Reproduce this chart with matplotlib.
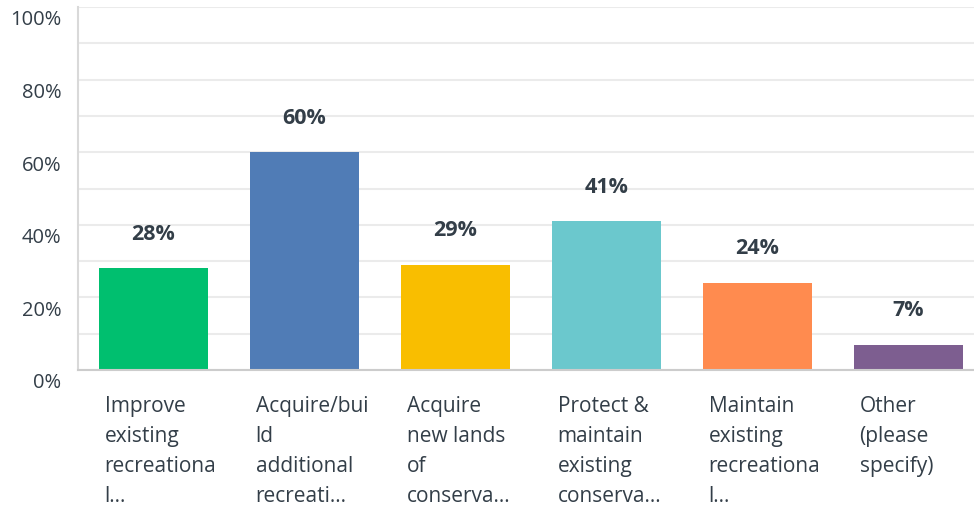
"""Survey response bar chart."""
import matplotlib.pyplot as plt
from matplotlib.transforms import ScaledTranslation

categories = [
    "Improve\nexisting\nrecreationa\nl...",
    "Acquire/bui\nld\nadditional\nrecreati...",
    "Acquire\nnew lands\nof\nconserva...",
    "Protect &\nmaintain\nexisting\nconserva...",
    "Maintain\nexisting\nrecreationa\nl...",
    "Other\n(please\nspecify)",
]
percents = [28, 60, 29, 41, 24, 7]
colors = ["#00BF6F", "#507CB6", "#F9BE00", "#6BC8CD", "#FF8B4F", "#7D5E90"]
y_ticks = [0, 20, 40, 60, 80, 100]

text_color = "#333E48"
plt.rcParams["font.family"] = ["Open Sans", "DejaVu Sans"]

fig = plt.figure(figsize=(9.74, 5.10), dpi=100)
ax = fig.add_axes([78 / 974, 1 - 371 / 510, 906 / 974, 363 / 510])

x = list(range(len(categories)))
bar_width = 0.728
ax.bar(x, percents, width=bar_width, color=colors, zorder=3)

# value labels above each bar
for xi, val in zip(x, percents):
    ax.annotate(
        f"{val}%",
        (xi, val),
        xytext=(0, 35),
        textcoords="offset pixels",
        ha="center",
        va="center",
        fontsize=15.5,
        fontweight="bold",
        color=text_color,
    )

# category labels, left aligned under each bar
for xi, label in zip(x, categories):
    ax.annotate(
        label,
        (xi - bar_width / 2, 0),
        xytext=(6, -25),
        textcoords="offset pixels",
        ha="left",
        va="top",
        fontsize=15,
        color=text_color,
        linespacing=1.57,
        annotation_clip=False,
    )

ax.set_xlim(-0.5, len(categories) - 0.5)
ax.set_ylim(0, 100)
ax.set_xticks([])
ax.set_yticks(y_ticks)
ax.set_yticklabels([f"{t}%" for t in y_ticks])
ax.set_yticks(range(10, 100, 20), minor=True)
ax.tick_params(axis="y", length=0, which="both", pad=12, labelsize=14.5, labelcolor=text_color)
offset = ScaledTranslation(0, -10 / 100, fig.dpi_scale_trans)
for lbl in ax.get_yticklabels():
    lbl.set_transform(lbl.get_transform() + offset)

ax.grid(axis="y", which="both", color="#EBEBEB", linewidth=1.5, zorder=0)
for side in ["top", "right"]:
    ax.spines[side].set_visible(False)
ax.spines["left"].set_color("#D9D9D9")
ax.spines["left"].set_linewidth(1.5)
ax.spines["bottom"].set_color("#CCCCCC")
ax.spines["bottom"].set_linewidth(1.5)
ax.spines["bottom"].set_zorder(4)

fig.savefig("out.png", dpi=100)
